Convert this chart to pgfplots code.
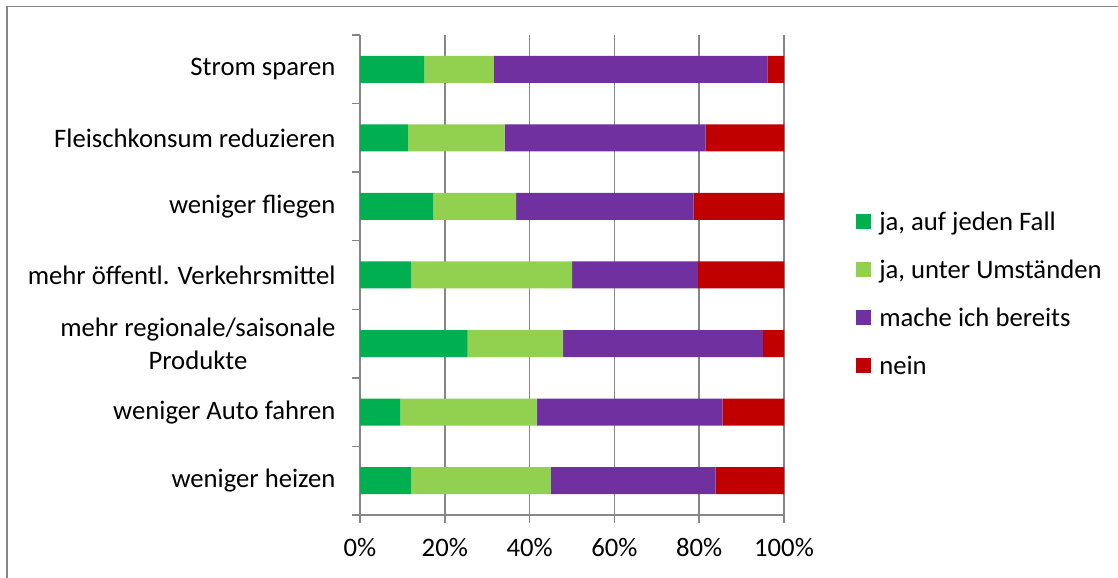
\documentclass[border=0pt]{standalone}
\usepackage{pgfplots}
\pgfplotsset{compat=1.18}
\usepackage{fontspec}
\setmainfont{Carlito}
\definecolor{cA}{HTML}{00B050}
\definecolor{cB}{HTML}{92D050}
\definecolor{cC}{HTML}{7030A0}
\definecolor{cD}{HTML}{C00000}
\definecolor{axgray}{RGB}{134,134,134}
\begin{document}
\begin{tikzpicture}
\useasboundingbox (0bp,0bp) rectangle (1118bp,578bp);
\draw[axgray, line width=1.5bp] (7bp,0bp) -- (7bp,571.5bp) -- (1118bp,571.5bp);
\begin{axis}[
  at={(360bp,63bp)}, anchor=south west,
  scale only axis, width=424bp, height=480bp,
  xbar stacked, bar width=27bp,
  xmin=0, xmax=100, ymin=0.5, ymax=7.5,
  xtick={0,20,...,100},
  xticklabel={\pgfmathprintnumber{\tick}\%},
  ytick={0.5,1.5,...,7.5}, yticklabels={},
  extra y ticks={1,2,3,4,5,6,7},
  extra y tick labels={weniger heizen,weniger Auto fahren,{mehr regionale/saisonale\\Produkte},mehr öffentl. Verkehrsmittel,weniger fliegen,Fleischkonsum reduzieren,Strom sparen},
  extra y tick style={major tick length=0pt, tick style={draw=none}, yticklabel style={xshift=-21bp}},
  yticklabel style={align=center, font=\fontsize{26.8}{33}\selectfont},
  xticklabel style={font=\fontsize{26.8}{32}\selectfont, yshift=-12bp},
  /pgf/number format/assume math mode=true,
  axis x line*=bottom, axis y line*=left,
  x axis line style={axgray, line width=1.5bp, -},
  y axis line style={axgray, line width=1.5bp, -},
  tick align=outside, major tick length=8bp,
  tick style={axgray, line width=1.5bp},
  xmajorgrids, grid style={axgray, line width=1.6bp},
  legend style={draw=none, at={(1.170,0.461)}, anchor=west, font=\fontsize{26.8}{32}\selectfont, row sep=24bp, inner sep=0pt},
  legend cell align=left,
  legend image code/.code={\fill[#1,draw=none] (0bp,-7.5bp) rectangle (15bp,7.5bp); \path (21bp,0bp);},
  every axis plot/.append style={draw=none},
]
\addplot[fill=cA] coordinates {(12.1,1) (9.5,2) (25.4,3) (12.1,4) (17.3,5) (11.3,6) (15.2,7)};
\addplot[fill=cB] coordinates {(32.9,1) (32.3,2) (22.5,3) (37.9,4) (19.5,5) (22.8,6) (16.4,7)};
\addplot[fill=cC] coordinates {(38.9,1) (43.7,2) (47.1,3) (29.7,4) (41.9,5) (47.4,6) (64.5,7)};
\addplot[fill=cD] coordinates {(16.1,1) (14.5,2) (5.0,3) (20.3,4) (21.3,5) (18.5,6) (3.9,7)};
\legend{ja{,} auf jeden Fall, ja{,} unter Umständen, mache ich bereits, nein}
\end{axis}
\end{tikzpicture}
\end{document}
